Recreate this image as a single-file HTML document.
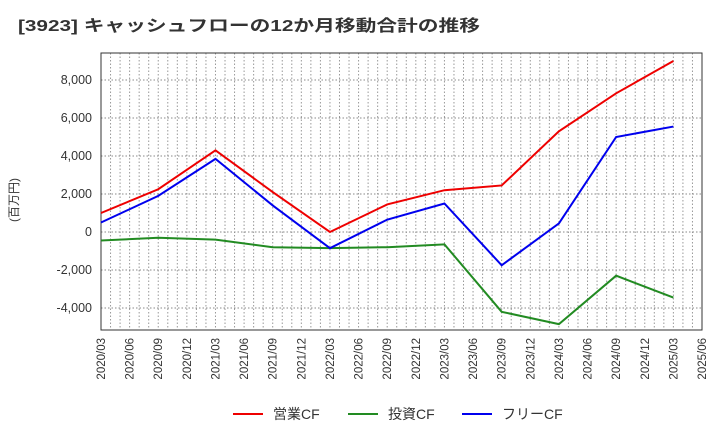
<!DOCTYPE html>
<html><head><meta charset="utf-8"><style>
body{margin:0;background:#fff;font-family:"Liberation Sans","Noto Sans CJK JP",sans-serif;}
</style></head><body>
<svg width="720" height="440" xmlns="http://www.w3.org/2000/svg" style="font-family:'Liberation Sans','Noto Sans CJK JP',sans-serif">
<text x="18" y="31" font-size="16" font-weight="bold" fill="#333" textLength="462" lengthAdjust="spacingAndGlyphs">[3923]  キャッシュフローの12か月移動合計の推移</text>
<text transform="translate(18,200) rotate(-90)" font-size="12" fill="#333" text-anchor="middle">(百万円)</text>
<g id="grid"></g><g id="axes"></g><g id="series"></g><g id="legend"></g>
</svg>
<script>
const xLabels=["2020/03","2020/06","2020/09","2020/12","2021/03","2021/06","2021/09","2021/12","2022/03","2022/06","2022/09","2022/12","2023/03","2023/06","2023/09","2023/12","2024/03","2024/06","2024/09","2024/12","2025/03","2025/06"];
const yTicks=[-4000,-2000,0,2000,4000,6000,8000];
const pointIdx=[0,2,4,6,8,10,12,14,16,18,20];
const opCF=[1000,2250,4300,2100,0,1450,2200,2450,5300,7300,9000];
const invCF=[-450,-300,-400,-800,-850,-800,-650,-4200,-4850,-2300,-3450];
const freeCF=[500,1900,3850,1400,-850,650,1500,-1750,450,5000,5550];
const L=101,R=702,T=53,B=330;
const NS="http://www.w3.org/2000/svg";
const xs=i=>L+i*(R-L)/21;
const ys=v=>232-v*38/2000;
function mk(tag,attrs,parent){const e=document.createElementNS(NS,tag);for(const k in attrs)e.setAttribute(k,attrs[k]);document.getElementById(parent).appendChild(e);return e;}
for(let m=1;m<63;m++){const x=L+m*(R-L)/63;const g=mk('line',{x1:x,x2:x,y1:T,y2:B,stroke:'#999','stroke-dasharray':'1.5,2','stroke-width':1},'grid');

}
yTicks.forEach(v=>{const g=mk('line',{x1:L,x2:R,y1:ys(v),y2:ys(v),stroke:'#888','stroke-dasharray':'1.5,2','stroke-width':1},'grid');


const t=mk('text',{x:L-9,y:ys(v)+4,'font-size':12.5,fill:'#333','text-anchor':'end'},'axes');t.textContent=v.toLocaleString('en-US');

});
const fr=mk('rect',{x:L,y:T,width:R-L,height:B-T,fill:'none',stroke:'#333','stroke-width':1},'axes');


xLabels.forEach((s,i)=>{const t=mk('text',{transform:`translate(${xs(i)+4},${B+8}) rotate(-90)`,'font-size':11.5,fill:'#333','text-anchor':'end'},'axes');t.textContent=s;

});
function series(vals,color,name){const p=mk('polyline',{points:vals.map((v,k)=>xs(pointIdx[k])+','+ys(v)).join(' '),fill:'none',stroke:color,'stroke-width':2},'series');

}
series(opCF,'#ee0000','operating-cf-line');
series(invCF,'#228b22','investing-cf-line');
series(freeCF,'#0000ee','free-cf-line');
[['営業CF','#ee0000',233,'legend-operating-cf'],['投資CF','#228b22',348,'legend-investing-cf'],['フリーCF','#0000ee',462,'legend-free-cf']].forEach(([n,c,x,dn])=>{
const l=mk('line',{x1:x,x2:x+30,y1:414,y2:414,stroke:c,'stroke-width':2},'legend');


const t=mk('text',{x:x+40,y:419,'font-size':14,fill:'#333'},'legend');t.textContent=n;

});
</script>
</body></html>
